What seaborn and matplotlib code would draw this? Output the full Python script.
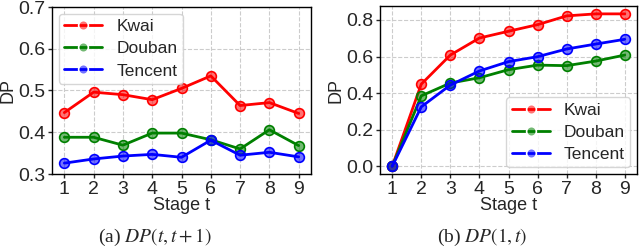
import numpy as np
import pandas as pd
import seaborn as sns
import matplotlib
matplotlib.use("Agg")
import matplotlib.pyplot as plt

stages = [1, 2, 3, 4, 5, 6, 7, 8, 9]
series_names = ["Kwai", "Douban", "Tencent"]
colors = ["#ff0000", "#008000", "#0000ff"]

# (a) DP(t, t+1)
kwai_a = [0.447, 0.496, 0.490, 0.478, 0.505, 0.535, 0.464, 0.471, 0.445]
douban_a = [0.388, 0.388, 0.369, 0.398, 0.398, 0.382, 0.360, 0.406, 0.368]
tencent_a = [0.326, 0.336, 0.343, 0.347, 0.340, 0.381, 0.345, 0.352, 0.341]

# (b) DP(1, t)
kwai_b = [0.0, 0.449, 0.608, 0.701, 0.738, 0.774, 0.822, 0.833, 0.833]
douban_b = [0.0, 0.385, 0.455, 0.484, 0.528, 0.553, 0.550, 0.575, 0.608]
tencent_b = [0.0, 0.325, 0.444, 0.521, 0.572, 0.599, 0.641, 0.668, 0.694]

yticks_a = [0.3, 0.4, 0.5, 0.6, 0.7]
yticks_b = [0.0, 0.2, 0.4, 0.6, 0.8]
captions = ["(a) $DP(t,t+1)$", "(b) $DP(1,t)$"]


def long_df(vals):
    rows = []
    for name, v in zip(series_names, vals):
        for s, y in zip(stages, v):
            rows.append({"Stage": s, "DP": y, "Dataset": name})
    return pd.DataFrame(rows)


sns.set_style("white")
plt.rcParams["font.family"] = ["Liberation Sans", "DejaVu Sans"]
plt.rcParams["mathtext.fontset"] = "stix"

fig = plt.figure(figsize=(6.4, 2.49), dpi=100)
ax1 = fig.add_axes([52 / 640, 1 - 174 / 249, 259 / 640, 167 / 249])
ax2 = fig.add_axes([380 / 640, 1 - 174 / 249, 257 / 640, 168 / 249])

palette = dict(zip(series_names, colors))

for ax, vals, yt, loc in [
    (ax1, [kwai_a, douban_a, tencent_a], yticks_a, "upper left"),
    (ax2, [kwai_b, douban_b, tencent_b], yticks_b, "lower right"),
]:
    df = long_df(vals)
    sns.lineplot(data=df, x="Stage", y="DP", hue="Dataset", palette=palette,
                 marker="o", markersize=7, linewidth=2, ax=ax,
                 markeredgewidth=1.2, legend=True)
    for line, c in zip(ax.get_lines(), colors):
        line.set_markerfacecolor(matplotlib.colors.to_rgba(c, 0.55))
        line.set_markeredgecolor(c)
    ax.set_xticks(stages)
    ax.set_yticks(yt)
    ax.set_yticklabels([f"{v:.1f}" for v in yt])
    ax.tick_params(axis="both", labelsize=14, length=3, width=1, left=True, bottom=True, pad=2)
    ax.grid(True, linestyle="--", color="#cccccc", linewidth=0.8)
    for sp in ax.spines.values():
        sp.set_color("black")
        sp.set_linewidth(1.0)
    ax.set_xlabel("Stage t", fontsize=13, labelpad=-1)
    ax.set_ylabel("DP", fontsize=13, labelpad=1)
    ax.set_xlim(0.58, 9.42)
    leg = ax.legend(loc=loc, fontsize=12.5, frameon=True, handlelength=2.2,
                    borderpad=0.3, labelspacing=0.4, handletextpad=0.8,
                    borderaxespad=0.4)
    leg.get_frame().set_edgecolor("#cccccc")
    for h, c in zip(leg.legend_handles, colors):
        h.set_markerfacecolor(matplotlib.colors.to_rgba(c, 0.55))
        h.set_markersize(7)

ax1.set_ylim(0.3, 0.7)
ax2.set_ylim(-0.042, 0.876)

fig.text(155 / 640, 0.004, captions[0], fontsize=14, ha="center", va="bottom",
         family=["Liberation Serif", "DejaVu Serif"])
fig.text(482 / 640, 0.004, captions[1], fontsize=14, ha="center", va="bottom",
         family=["Liberation Serif", "DejaVu Serif"])

fig.savefig("out.png", dpi=100)
